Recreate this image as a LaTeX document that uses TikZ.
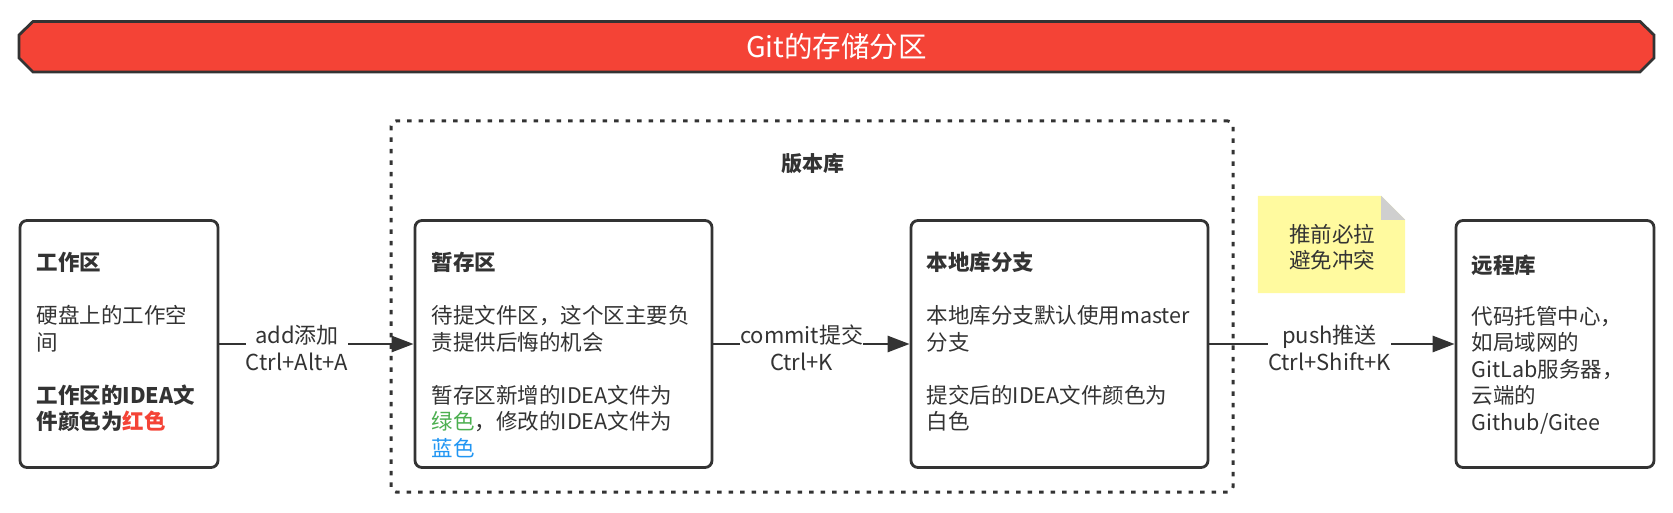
\documentclass[tikz,border=0pt]{standalone}
\usepackage{fontspec}
\setmainfont{Noto Sans CJK SC}
\usetikzlibrary{arrows.meta}
\definecolor{strokec}{HTML}{333333}
\definecolor{txt}{HTML}{333333}
\definecolor{bannerred}{HTML}{F44336}
\definecolor{redt}{HTML}{F44336}
\definecolor{greent}{HTML}{4CAF50}
\definecolor{bluet}{HTML}{2196F3}
\definecolor{notefill}{HTML}{FFFA9F}
\definecolor{foldc}{HTML}{CFCFCF}
\tikzset{
  areabox/.style={draw=strokec, line width=2.8pt, rounded corners=7pt, fill=white,
    minimum height=247pt, inner sep=0pt},
  bodytxt/.style={font=\fontsize{21.5}{26.5}\selectfont, text=txt, align=left,
    inner sep=0pt, anchor=north west},
  lbl/.style={font=\fontsize{22}{26.5}\selectfont, text=txt, align=center,
    fill=white, inner sep=0pt, yshift=-4pt},
  arr/.style={draw=strokec, line width=2.8pt, -{Triangle[length=22pt,width=16pt]}},
}
\begin{document}
\begin{tikzpicture}[x=1pt,y=-1pt]
\useasboundingbox (0,0) rectangle (1673,513);
% banner
\draw[draw=strokec, fill=bannerred, line width=2.8pt, line join=miter]
  (33,21.5) -- (1640,21.5) -- (1654,35) -- (1654,58) -- (1640,72) -- (33,72)
  -- (19,58) -- (19,35) -- cycle;
\node[font=\fontsize{28.5}{32}\selectfont, text=white, inner sep=0pt] (title) at (836.5,47) {Git的存储分区};
% repository container
\node[draw=strokec, line width=3pt, dash pattern=on 4.5pt off 7pt, rounded corners=5pt,
  minimum width=842pt, minimum height=371pt, inner sep=0pt] (repo) at (812,306.5) {};
\node[font=\bfseries\fontsize{21}{26}\selectfont, text=txt, inner sep=0pt] (repotitle) at (812.5,164) {版本库};
% boxes
\node[areabox, minimum width=198pt] (wk) at (119,344) {};
\node[areabox, minimum width=297pt] (zc) at (563.5,344) {};
\node[areabox, minimum width=297pt] (bd) at (1059.5,344) {};
\node[areabox, minimum width=198pt] (yc) at (1555,344) {};
% box texts
\node[bodytxt] (wkt) at ([xshift=18pt,yshift=-33pt]wk.north west) {%
\textbf{工作区}\\[26.5pt]
硬盘上的工作空\\
间\\[26.5pt]
\textbf{工作区的IDEA文}\\
\textbf{件颜色为\textcolor{redt}{红色}}};
\node[bodytxt] (zct) at ([xshift=18pt,yshift=-33pt]zc.north west) {%
\textbf{暂存区}\\[26.5pt]
待提文件区，这个区主要负\\
责提供后悔的机会\\[26.5pt]
暂存区新增的IDEA文件为\\
\textcolor{greent}{绿色}，修改的IDEA文件为\\
\textcolor{bluet}{蓝色}};
\node[bodytxt] (bdt) at ([xshift=17pt,yshift=-33pt]bd.north west) {%
\textbf{本地库分支}\\[26.5pt]
本地库分支默认使用master\\
分支\\[26.5pt]
提交后的IDEA文件颜色为\\
白色};
\node[bodytxt] (yct) at ([xshift=17pt,yshift=-36pt]yc.north west) {%
\textbf{远程库}\\[24pt]
代码托管中心，\\
如局域网的\\
GitLab服务器，\\
云端的\\
Github/Gitee};
% note
\node[minimum width=147pt, minimum height=97pt, inner sep=0pt] (note) at (1331.5,244.5) {};
\fill[notefill] (note.north west) -- ([xshift=-24pt]note.north east) -- ([yshift=-24pt]note.north east)
  -- (note.south east) -- (note.south west) -- cycle;
\fill[foldc] ([xshift=-24pt]note.north east) -- ([xshift=-24pt,yshift=-24pt]note.north east)
  -- ([yshift=-24pt]note.north east) -- cycle;
\node[font=\fontsize{21.5}{26.5}\selectfont, text=txt, align=center, inner sep=0pt] (notet) at (1332,247.5) {推前必拉\\避免冲突};
% arrows
\draw[arr] (wk.east) -- node[lbl, pos=0.40] (l1) {add添加\\Ctrl+Alt+A} (zc.west);
\draw[arr] (zc.east) -- node[lbl, pos=0.45] (l2) {commit提交\\Ctrl+K} (bd.west);
\draw[arr] (bd.east) -- node[lbl, pos=0.49] (l3) {push推送\\Ctrl+Shift+K} (yc.west);
\end{tikzpicture}
\end{document}
